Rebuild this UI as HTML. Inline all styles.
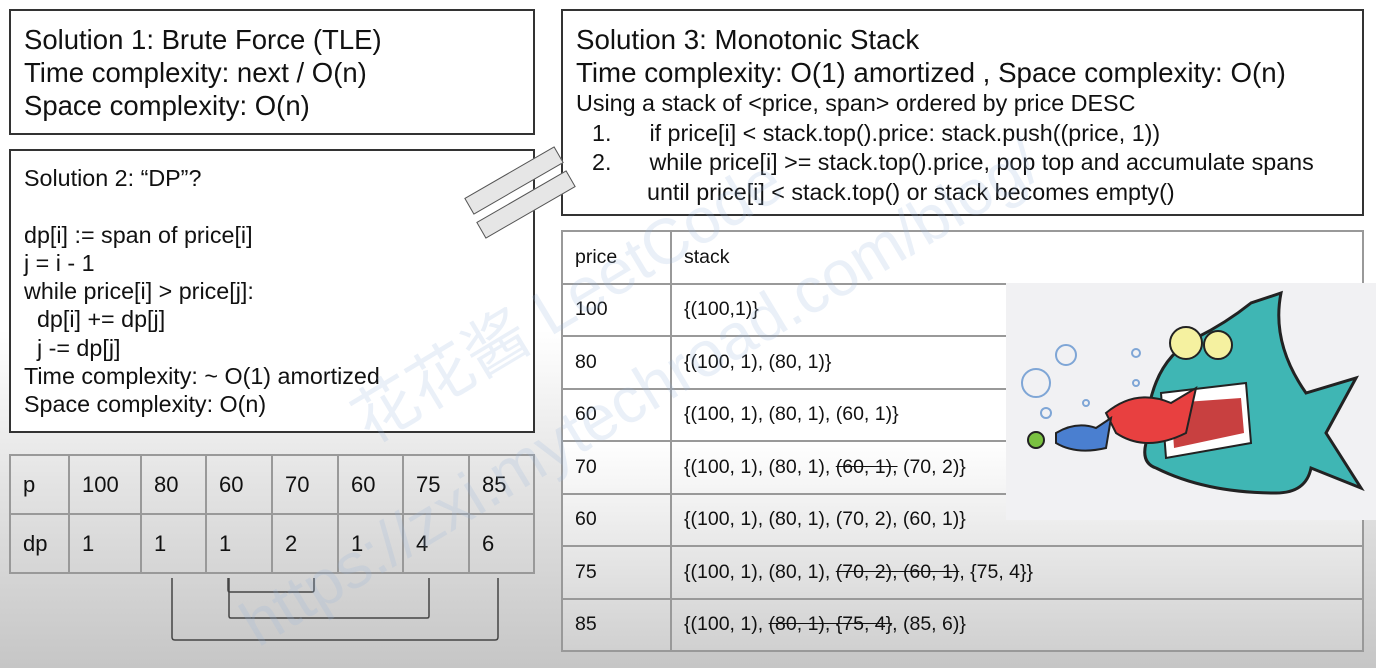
<!DOCTYPE html>
<html style="width:1376px;height:668px;overflow:hidden"><head><meta charset="utf-8"><style>
*{margin:0;padding:0;box-sizing:border-box}
body{width:1376px;height:668px;overflow:hidden;position:relative;font-family:"Liberation Sans","Noto Sans CJK SC",sans-serif;color:#111;
background:linear-gradient(to bottom,#fff 0px,#fff 330px,#e4e4e4 480px,#c6c6c6 668px);}
.box{position:absolute;border:2px solid #333;background:#fff}
.t{position:absolute;white-space:nowrap}
table{position:absolute;border-collapse:collapse}
td{border:2px solid #999;padding-left:12px;font-size:22px;vertical-align:middle}
.s td{font-size:19.5px}
del{text-decoration:line-through}
</style></head><body>
<div class="box" style="left:9px;top:9px;width:526px;height:126px"></div>
<div class="t" style="left:24px;top:23px;font-size:27.5px;line-height:33px">Solution 1: Brute Force (TLE)<br>Time complexity: next / O(n)<br>Space complexity: O(n)</div>

<div class="box" style="left:9px;top:149px;width:526px;height:284px"></div>
<div class="t" style="left:24px;top:164px;font-size:23.3px;line-height:28.3px">Solution 2: “DP”?<br><br>dp[i] := span of price[i]<br>j = i - 1<br>while price[i] &gt; price[j]:<br>&nbsp;&nbsp;dp[i] += dp[j]<br>&nbsp;&nbsp;j -= dp[j]<br>Time complexity: ~ O(1) amortized<br>Space complexity: O(n)</div>

<div class="box" style="left:561px;top:9px;width:803px;height:207px"></div>
<div class="t" style="left:576px;top:23px;font-size:27.7px;line-height:33px">Solution 3: Monotonic Stack<br>Time complexity: O(1) amortized , Space complexity: O(n)</div>
<div class="t" style="left:576px;top:89px;font-size:23.3px;line-height:29.5px">Using a stack of &lt;price, span&gt; ordered by price DESC<br>
<span style="display:inline-block;width:16px"></span>1.<span style="display:inline-block;width:38px"></span>if price[i] &lt; stack.top().price: stack.push((price, 1))<br>
<span style="display:inline-block;width:16px"></span>2.<span style="display:inline-block;width:38px"></span>while price[i] &gt;= stack.top().price, pop top and accumulate spans<br>
<span style="display:inline-block;width:71px"></span>until price[i] &lt; stack.top() or stack becomes empty()</div>

<div style="position:absolute;left:462px;top:171px;width:104px;height:19px;background:#e6e6e6;border:1.5px solid #555;transform:rotate(-30deg)"></div>
<div style="position:absolute;left:474px;top:195px;width:104px;height:19px;background:#e6e6e6;border:1.5px solid #555;transform:rotate(-30deg)"></div>

<table style="left:9px;top:454px;width:526px;height:120px;">
<tr style="height:59px"><td style="width:59px">p</td><td style="width:72px">100</td><td style="width:65px">80</td><td style="width:66px">60</td><td style="width:66px">70</td><td style="width:65px">60</td><td style="width:66px">75</td><td>85</td></tr>
<tr><td>dp</td><td>1</td><td>1</td><td>1</td><td>2</td><td>1</td><td>4</td><td>6</td></tr>
</table>
<svg style="position:absolute;left:0;top:0" width="1376" height="668">
<g fill="none" stroke="#444" stroke-width="1.5">
<path d="M228 578 V590 Q228 592 230 592 H312 Q314 592 314 590 V578"/>
<path d="M229 578 V616 Q229 618 231 618 H427 Q429 618 429 616 V578"/>
<path d="M172 578 V637 Q172 640 175 640 H495 Q498 640 498 637 V578"/>
</g>
</svg>

<table class="s" style="left:561px;top:230px;width:803px;height:422px;background:linear-gradient(#fff 50%,#e8e8e8 75%,#d0d0d0)">
<tr><td style="width:109px">price</td><td>stack</td></tr>
<tr><td>100</td><td>{(100,1)}</td></tr>
<tr><td>80</td><td>{(100, 1), (80, 1)}</td></tr>
<tr><td>60</td><td>{(100, 1), (80, 1), (60, 1)}</td></tr>
<tr><td>70</td><td>{(100, 1), (80, 1), <del>(60, 1),</del> (70, 2)}</td></tr>
<tr><td>60</td><td>{(100, 1), (80, 1), (70, 2), (60, 1)}</td></tr>
<tr><td>75</td><td>{(100, 1), (80, 1), <del>(70, 2), (60, 1)</del>, {75, 4}}</td></tr>
<tr><td>85</td><td>{(100, 1), <del>(80, 1), {75, 4}</del>, (85, 6)}</td></tr>
</table>

<svg style="position:absolute;left:1006px;top:283px" width="370" height="237">
<rect width="370" height="237" fill="#f1f1f3"/>
<g fill="none" stroke="#7fa6d6" stroke-width="2">
<circle cx="30" cy="100" r="14"/><circle cx="60" cy="72" r="10"/><circle cx="40" cy="130" r="5"/><circle cx="130" cy="70" r="4"/><circle cx="80" cy="120" r="3"/><circle cx="130" cy="100" r="3"/></g>
<path d="M140 160 Q140 80 190 55 Q220 40 245 20 L275 10 Q265 60 300 110 L350 95 L320 150 L355 205 L305 185 Q300 210 270 210 Q200 210 150 185 Q135 180 140 160Z" fill="#3fb6b4" stroke="#222" stroke-width="3"/>
<path d="M155 110 L240 100 L245 160 L160 175Z" fill="#fff" stroke="#222" stroke-width="2"/>
<path d="M165 120 L235 115 L238 150 L168 165Z" fill="#c84040"/>
<circle cx="180" cy="60" r="16" fill="#f5f1a0" stroke="#222" stroke-width="2"/><circle cx="212" cy="62" r="14" fill="#f5f1a0" stroke="#222" stroke-width="2"/>
<path d="M100 130 Q130 105 165 120 L190 105 L180 150 Q140 170 110 150Z" fill="#e84040" stroke="#222" stroke-width="2"/>
<path d="M50 150 Q70 138 90 145 L105 135 L100 165 Q70 172 50 160Z" fill="#4a7fd0" stroke="#222" stroke-width="2"/>
<circle cx="30" cy="157" r="8" fill="#7ac240" stroke="#222" stroke-width="2"/>
</svg>

<svg style="position:absolute;left:0;top:0;pointer-events:none" width="1376" height="668" viewBox="0 0 1376 668">
<g fill="rgba(150,180,220,0.2)" font-family="Liberation Sans, Noto Sans CJK SC, sans-serif">
<text x="0" y="0" font-size="64" transform="translate(370 445) rotate(-31)">花花酱 LeetCode</text>
<text x="0" y="0" font-size="64" transform="translate(258 648) rotate(-31)">https://zxi.mytechroad.com/blog/</text>
</g>
</svg>
</body></html>
